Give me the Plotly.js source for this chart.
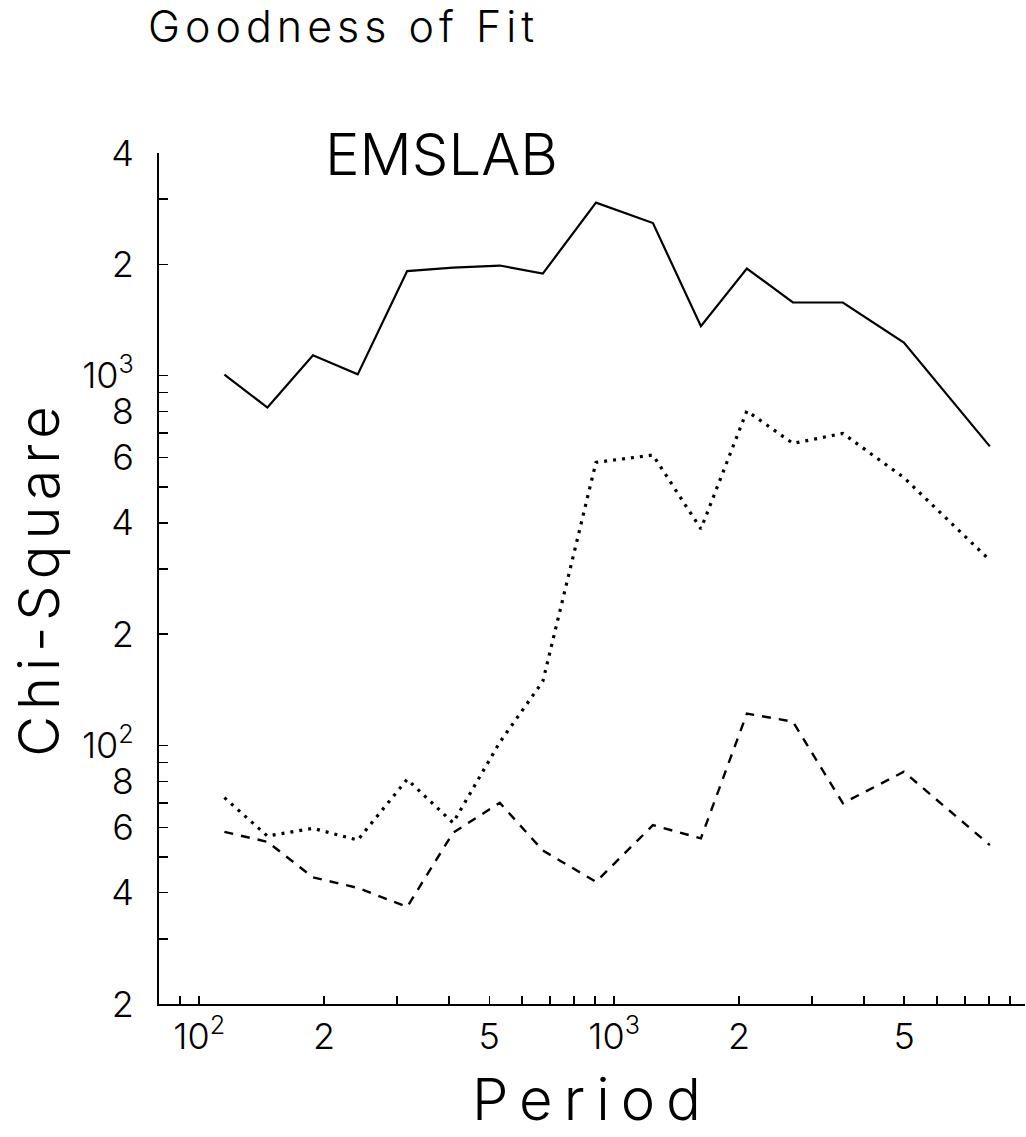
<!DOCTYPE html>
<html>
<head>
<meta charset="utf-8">
<script src="https://cdn.plot.ly/plotly-3.0.1.min.js"></script>
<style>
  html, body { margin: 0; padding: 0; background: #fff; }
  #chart { width: 1026px; height: 1137px; }
  .gtitle { letter-spacing: 5px; }
  .xtitle { letter-spacing: 11px; }
  .ytitle { letter-spacing: 6px; }
</style>
</head>
<body>
<div id="chart"></div>
<script>
// Period (s)
const periods = [115, 146, 188, 241, 317, 409, 530, 673, 904, 1240, 1618, 2088, 2696, 3557, 4990, 8040];
// Chi-square curves
const chiSolid  = [1007, 820, 1135, 1008, 1918, 1960, 1985, 1888, 2937, 2586, 1360, 1948, 1577, 1577, 1229, 644];
const chiDotted = [72.3, 56.9, 59.7, 55.5, 81, 61.8, 102, 149, 583, 610, 385, 803, 656, 698, 530, 317];
const chiDashed = [58.4, 54.9, 44.0, 41.2, 36.6, 58.1, 70.0, 52.0, 42.8, 60.9, 56.1, 122, 116, 69.8, 84.9, 53.8];

// Labelled ticks
const xTickVals = [100, 200, 500, 1000, 2000, 5000];
const xTickText = ['10<sup>2</sup>', '2', '5', '10<sup>3</sup>', '2', '5'];
const yTickVals = [20, 40, 60, 80, 100, 200, 400, 600, 800, 1000, 2000, 4000];
const yTickText = ['2', '4', '6', '8', '10<sup>2</sup>', '2', '4', '6', '8', '10<sup>3</sup>', '2', '4'];
// Unlabelled ticks
const xMinorVals = [90, 300, 400, 600, 700, 800, 900, 3000, 4000, 6000, 7000, 8000, 9000];
const yMinorVals = [30, 50, 70, 90, 300, 500, 700, 900, 3000];

const FONT = "Inter, 'Noto Sans', 'DejaVu Sans', sans-serif";

const traces = [
  { x: periods, y: chiSolid, type: 'scatter', mode: 'lines', name: 'solid',
    line: { color: '#000', width: 2.2 } },
  { x: periods, y: chiDotted, type: 'scatter', mode: 'lines', name: 'dotted',
    line: { color: '#000', width: 3.2, dash: '3px,6px' } },
  { x: periods, y: chiDashed, type: 'scatter', mode: 'lines', name: 'dashed',
    line: { color: '#000', width: 2.4, dash: '9px,8px' } }
];

const layout = {
  width: 1026, height: 1137,
  margin: { l: 159, r: 1, t: 153, b: 133, pad: 0 },
  paper_bgcolor: '#fff', plot_bgcolor: '#fff',
  showlegend: false,
  font: { family: FONT, color: '#000', weight: 300 },
  title: {
    text: 'Goodness of Fit',
    font: { family: FONT, size: 43, color: '#000', weight: 300 },
    x: 148 / 1026, xanchor: 'left', xref: 'container',
    y: 1 - 12 / 1137, yanchor: 'top', yref: 'container'
  },
  annotations: [{
    text: 'EMSLAB', xref: 'paper', yref: 'paper',
    x: (323 - 159) / 866, xanchor: 'left',
    y: (1004 - 154) / 851, yanchor: 'middle',
    showarrow: false,
    font: { family: FONT, size: 58, color: '#000', weight: 300 }
  }],
  xaxis: {
    type: 'log', range: [Math.log10(80), 3.99],
    showgrid: false, zeroline: false,
    showline: true, linecolor: '#000', linewidth: 2,
    ticks: 'inside', ticklen: 8, tickwidth: 1.5, tickcolor: '#000',
    tickmode: 'array', tickvals: xTickVals, ticktext: xTickText,
    minor: { tickmode: 'array', tickvals: xMinorVals, ticks: 'inside', ticklen: 8, tickwidth: 1.5, tickcolor: '#000', showgrid: false },
    tickfont: { family: FONT, size: 36, color: '#000', weight: 300 },
    ticklabelstandoff: 0,
    title: { text: 'Period', font: { family: FONT, size: 58, color: '#000', weight: 300 }, standoff: 22 },
    fixedrange: true
  },
  yaxis: {
    type: 'log', range: [Math.log10(20), Math.log10(4000)],
    showgrid: false, zeroline: false,
    showline: true, linecolor: '#000', linewidth: 2,
    ticks: 'inside', ticklen: 9, tickwidth: 1.5, tickcolor: '#000',
    tickmode: 'array', tickvals: yTickVals, ticktext: yTickText,
    minor: { tickmode: 'array', tickvals: yMinorVals, ticks: 'inside', ticklen: 9, tickwidth: 1.5, tickcolor: '#000', showgrid: false },
    tickfont: { family: FONT, size: 36, color: '#000', weight: 300 },
    ticklabelstandoff: 16,
    title: { text: 'Chi-Square', font: { family: FONT, size: 56, color: '#000', weight: 300 }, standoff: 4 },
    fixedrange: true
  }
};

Plotly.newPlot('chart', traces, layout, { displayModeBar: false, staticPlot: true });
</script>
</body>
</html>
